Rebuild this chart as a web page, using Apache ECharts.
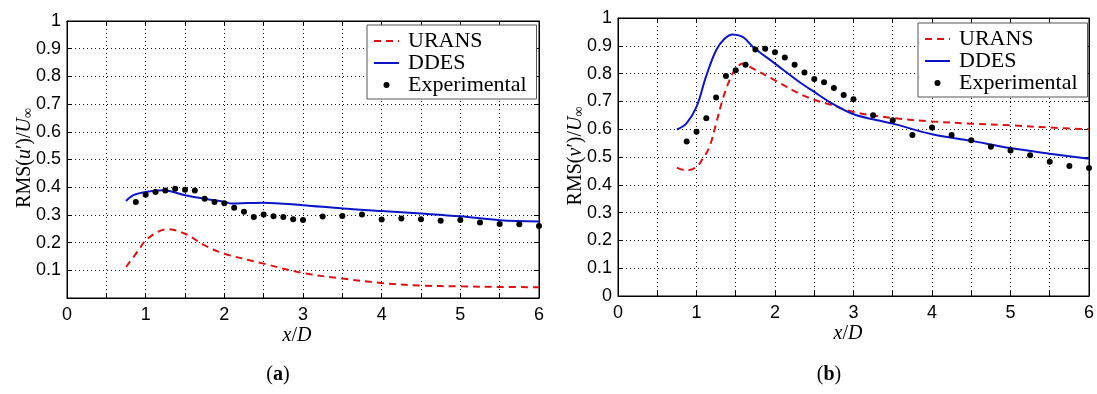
<!DOCTYPE html>
<html>
<head>
<meta charset="utf-8">
<script src="https://cdn.jsdelivr.net/npm/echarts@6/dist/echarts.min.js"></script>
<style>html,body{margin:0;padding:0;background:#fff}#c{width:1097px;height:394px}</style>
</head>
<body>
<div id="c"></div>
<script>
// ---- data (a): RMS(u')/U_inf ----
const uUransX = [0.75, 0.9, 1.0, 1.15, 1.28, 1.5, 1.75, 2.0, 2.5, 3.0, 3.5, 4.0, 4.5, 5.0, 5.5, 6.0];
const uUransY = [0.112, 0.169, 0.208, 0.238, 0.248, 0.232, 0.19, 0.160, 0.124, 0.090, 0.070, 0.054, 0.045, 0.042, 0.040, 0.039];
const uDdesX = [0.75, 0.85, 1.0, 1.22, 1.5, 1.75, 2.0, 2.1, 2.3, 2.5, 3.0, 3.5, 4.0, 4.5, 5.0, 5.5, 6.0];
const uDdesY = [0.350, 0.372, 0.383, 0.389, 0.371, 0.358, 0.347, 0.341, 0.343, 0.344, 0.335, 0.323, 0.314, 0.305, 0.295, 0.281, 0.276];
const uExpX = [0.875, 1.0, 1.125, 1.25, 1.375, 1.5, 1.625, 1.75, 1.875, 2.0, 2.125, 2.25, 2.375, 2.5, 2.625, 2.75, 2.875, 3.0,
               3.25, 3.5, 3.75, 4.0, 4.25, 4.5, 4.75, 5.0, 5.25, 5.5, 5.75, 6.0];
const uExpY = [0.347, 0.373, 0.383, 0.388, 0.394, 0.391, 0.388, 0.358, 0.347, 0.342, 0.326, 0.311, 0.292, 0.301, 0.295, 0.292, 0.284, 0.282,
               0.294, 0.296, 0.301, 0.283, 0.287, 0.284, 0.279, 0.282, 0.273, 0.267, 0.266, 0.260];

// ---- data (b): RMS(v')/U_inf ----
const vUransX = [0.75, 0.87, 1.0, 1.08, 1.165, 1.25, 1.33, 1.42, 1.5, 1.59, 1.72, 2.0, 2.31, 2.5, 2.73, 3.0, 3.5, 4.0, 4.5, 5.0, 5.5, 6.0];
const vUransY = [0.462, 0.452, 0.464, 0.494, 0.536, 0.620, 0.704, 0.776, 0.818, 0.836, 0.818, 0.776, 0.728, 0.706, 0.686, 0.662, 0.640, 0.628, 0.620, 0.614, 0.606, 0.600];
const vDdesX = [0.75, 0.87, 1.0, 1.12, 1.25, 1.36, 1.46, 1.59, 1.72, 2.0, 2.31, 2.5, 2.73, 3.0, 3.5, 4.0, 4.5, 5.0, 5.5, 6.0];
const vDdesY = [0.599, 0.620, 0.680, 0.788, 0.884, 0.926, 0.941, 0.932, 0.896, 0.836, 0.770, 0.734, 0.692, 0.654, 0.620, 0.582, 0.558, 0.532, 0.512, 0.494];
const vExpX = [0.875, 1.0, 1.125, 1.25, 1.375, 1.5, 1.625, 1.75, 1.875, 2.0, 2.125, 2.25, 2.375, 2.5, 2.625, 2.75, 2.875, 3.0,
               3.25, 3.5, 3.75, 4.0, 4.25, 4.5, 4.75, 5.0, 5.25, 5.5, 5.75, 6.0];
const vExpY = [0.556, 0.591, 0.639, 0.714, 0.791, 0.812, 0.832, 0.887, 0.889, 0.877, 0.858, 0.832, 0.804, 0.781, 0.769, 0.748, 0.723, 0.708,
               0.650, 0.632, 0.579, 0.606, 0.579, 0.560, 0.537, 0.523, 0.506, 0.483, 0.468, 0.460];

const seriesNames = ['URANS', 'DDES', 'Experimental'];
const xTicks = [0, 1, 2, 3, 4, 5, 6];

const zip = (xs, ys) => xs.map((x, i) => [x, ys[i]]);

const SANS = '"Liberation Sans", Arial, sans-serif';
const SERIF = '"Liberation Serif", "DejaVu Serif", serif';
const dotted = { show: true, lineStyle: { color: '#111', width: 1, type: [1, 3] } };

function xAx(gi, pos) {
  return {
    gridIndex: gi, type: 'value', min: 0, max: 6, interval: 0.5, position: pos,
    axisLine: { show: true, onZero: false, lineStyle: { color: '#000', width: 1 } },
    axisTick: { show: true, inside: true, length: 5, lineStyle: { color: '#000' } },
    axisLabel: pos === 'bottom' ? {
      show: true, margin: 8, color: '#000', fontFamily: SANS, fontSize: 18,
      formatter: v => (xTicks.indexOf(v) >= 0 ? String(v) : '')
    } : { show: false },
    splitLine: pos === 'bottom' ? dotted : { show: false }
  };
}
function yAx(gi, pos, showZero) {
  return {
    gridIndex: gi, type: 'value', min: 0, max: 1, interval: 0.1, position: pos,
    axisLine: { show: true, onZero: false, lineStyle: { color: '#000', width: 1 } },
    axisTick: { show: true, inside: true, length: 5, lineStyle: { color: '#000' } },
    axisLabel: pos === 'left' ? {
      show: true, margin: 6, color: '#000', fontFamily: SANS, fontSize: 18,
      formatter: v => (v === 0 ? (showZero ? '0' : '') : (Math.round(v * 10) / 10).toString())
    } : { show: false },
    splitLine: pos === 'left' ? dotted : { show: false }
  };
}

function mkSeries(gi, ux, uy, dx, dy, ex, ey) {
  return [
    { name: seriesNames[0], type: 'line', xAxisIndex: gi * 2, yAxisIndex: gi * 2, data: zip(ux, uy),
      smooth: 0.35, symbol: 'none', lineStyle: { color: '#dd1111', width: 2, type: [7, 5] }, itemStyle: { color: '#dd1111' }, z: 3 },
    { name: seriesNames[1], type: 'line', xAxisIndex: gi * 2, yAxisIndex: gi * 2, data: zip(dx, dy),
      smooth: 0.35, symbol: 'none', lineStyle: { color: '#0a14c8', width: 2 }, itemStyle: { color: '#0a14c8' }, z: 3 },
    { name: seriesNames[2], type: 'scatter', xAxisIndex: gi * 2, yAxisIndex: gi * 2, data: zip(ex, ey),
      symbol: 'circle', symbolSize: 6, itemStyle: { color: '#000', opacity: 1 }, z: 4 }
  ];
}

function mkLegend(left, top) {
  return {
    show: true, type: 'plain', orient: 'vertical', left: left, top: top, itemGap: 0, itemWidth: 25, itemHeight: 6,
    padding: [5, 10, 3, 6], borderColor: '#555', borderWidth: 1, backgroundColor: '#fff',
    selectedMode: false,
    textStyle: { fontFamily: SERIF, fontSize: 22, color: '#000', lineHeight: 19, padding: [0, 0, 0, 4] },
    data: [
      { name: seriesNames[0], itemStyle: { opacity: 0 } },
      { name: seriesNames[1], itemStyle: { opacity: 0 } },
      { name: seriesNames[2] }
    ]
  };
}

const mathRich = {
  r: { fontFamily: SERIF, fontSize: 20, color: '#000' },
  i: { fontFamily: SERIF, fontSize: 20, fontStyle: 'italic', color: '#000' },
  s: { fontFamily: SERIF, fontSize: 14, color: '#000', verticalAlign: 'bottom' },
  b: { fontFamily: SERIF, fontSize: 20, fontWeight: 'bold', color: '#000' }
};
function txt(x, y, text, rot) {
  return { type: 'text', x: x, y: y, rotation: rot || 0,
    style: { text: text, rich: mathRich, align: 'center', verticalAlign: 'middle', fill: '#000' } };
}

const chart = echarts.init(document.getElementById('c'), null, { renderer: 'canvas' });
chart.setOption({
  animation: false,
  backgroundColor: '#fff',
  grid: [
    { left: 67, top: 21, width: 472, height: 277, show: true, borderColor: '#000', borderWidth: 1, backgroundColor: 'transparent' },
    { left: 618, top: 18, width: 473, height: 278, show: true, borderColor: '#000', borderWidth: 1, backgroundColor: 'transparent' }
  ],
  xAxis: [xAx(0, 'bottom'), xAx(0, 'top'), xAx(1, 'bottom'), xAx(1, 'top')],
  yAxis: [yAx(0, 'left', false), yAx(0, 'right', false), yAx(1, 'left', true), yAx(1, 'right', true)],
  legend: [mkLegend(367, 25), mkLegend(918, 23)],
  series: [].concat(
    mkSeries(0, uUransX, uUransY, uDdesX, uDdesY, uExpX, uExpY),
    mkSeries(1, vUransX, vUransY, vDdesX, vDdesY, vExpX, vExpY)
  ),
  graphic: [
    txt(25, 158, '{r|RMS(}{i|u}{r|′)/}{i|U}{s|∞}', Math.PI / 2),
    txt(576, 156, '{r|RMS(}{i|v}{r|′)/}{i|U}{s|∞}', Math.PI / 2),
    txt(297, 336, '{i|x}{r|/}{i|D}'),
    txt(848, 334, '{i|x}{r|/}{i|D}'),
    txt(278, 375, '{r|(}{b|a}{r|)}'),
    txt(829, 375, '{r|(}{b|b}{r|)}')
  ]
});
</script>
</body>
</html>
